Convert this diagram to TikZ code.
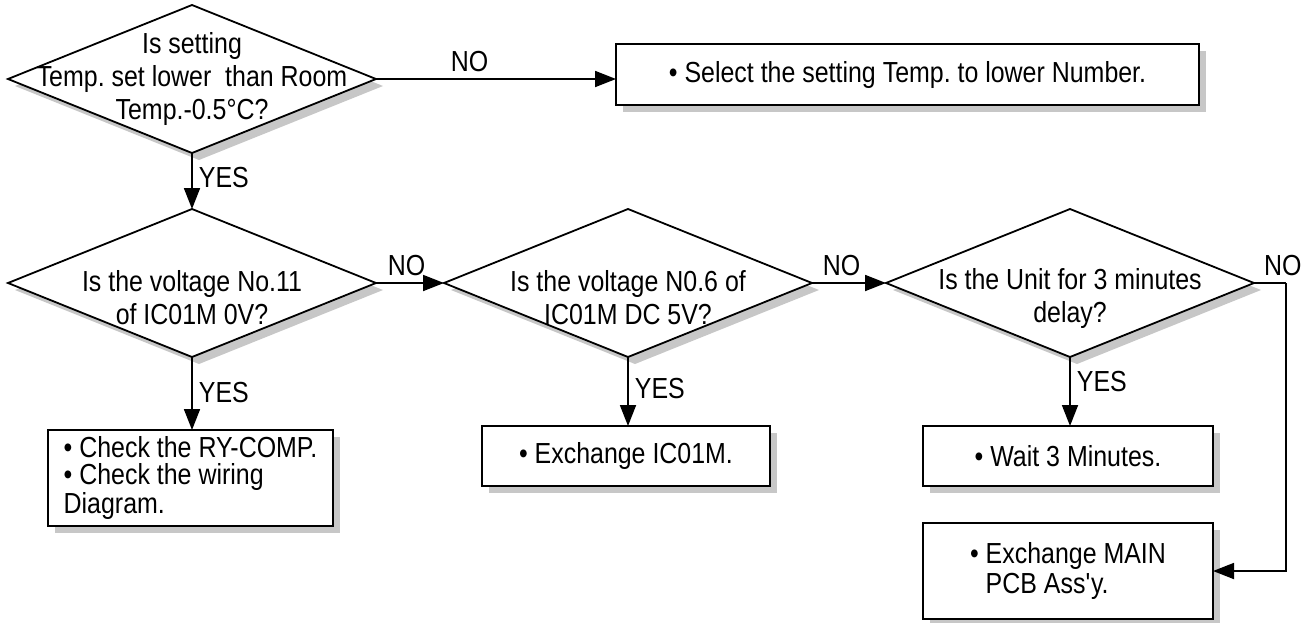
\documentclass[tikz,border=0pt]{standalone}
\usepackage{fontspec}
\setmainfont{Liberation Sans}[FakeStretch=0.86]
\usetikzlibrary{shapes.geometric,arrows.meta,shadows}

\tikzset{
    box/.style={draw, fill=white, line width=0.9pt, inner sep=0pt, outer sep=0pt,
        drop shadow={shadow xshift=3.5pt, shadow yshift=-3.5pt, fill=black!22, opacity=1}},
    decision/.style={box, diamond, minimum width=184pt, minimum height=74pt},
    arr/.style={-{Triangle[length=10.5pt,width=8pt]}, line width=0.9pt},
    lbl/.style={inner sep=3pt},
}

\begin{document}
\frenchspacing
\begin{tikzpicture}[x=0.5pt, y=-0.5pt, font=\fontsize{14.5pt}{16.5pt}\selectfont]
        \useasboundingbox (0,0) rectangle (1305,622);

            \node [decision] (d1) at (192,79) {};
            \node [decision] (d2) at (192,283) {};
            \node [decision] (d3) at (628,283) {};
            \node [decision] (d4) at (1070,283) {};
            \node [align=center] (q1) at (d1) {Is setting\\Temp. set lower\ \ than Room\\Temp.-0.5°C?};
            \node [align=center, yshift=-7.5pt] (q2) at (d2) {Is the voltage No.11\\of IC01M 0V?};
            \node [align=center, yshift=-7.5pt] (q3) at (d3) {Is the voltage N0.6 of\\IC01M DC 5V?};
            \node [align=center, yshift=-7.5pt] (q4) at (d4) {Is the Unit for 3 minutes\\delay?};

            \node [box, minimum width=291.5pt, minimum height=30.5pt] (b1) at (907.5,74.5) {• Select the setting Temp. to lower Number.};
            \node [box, minimum width=142.5pt, minimum height=48pt, align=left,
                font=\fontsize{14.5pt}{13.5pt}\selectfont] (b2) at (190.5,478) {• Check the RY-COMP.\\• Check the wiring\\Diagram.};
            \node [box, minimum width=144pt, minimum height=30pt] (b3) at (626,456) {• Exchange IC01M.};
            \node [box, minimum width=145pt, minimum height=30pt] (b4) at (1068,456) {• Wait 3 Minutes.};
            \node [box, minimum width=145pt, minimum height=48pt, align=left,
                font=\fontsize{14.5pt}{15pt}\selectfont] (b5) at (1068,571) {• Exchange MAIN\\\phantom{• }PCB Ass\textquotesingle y.};
            \coordinate (turn) at (1286,283);

            \draw [arr] (d1.east) -- (d1.east -| b1.west) node [lbl, above, pos=0.39] {NO};
            \draw [arr] (d1.south) -- (d2.north) node [lbl, right, pos=0.44] {YES};
            \draw [arr] (d2.east) -- (d3.west) node [lbl, above, pos=0.45] {NO};
            \draw [arr] (d3.east) -- (d4.west) node [lbl, above, pos=0.4] {NO};
            \draw [arr] (d2.south) -- (d2.south |- b2.north) node [lbl, right, pos=0.49] {YES};
            \draw [arr] (d3.south) -- (d3.south |- b3.north) node [lbl, right, pos=0.45] {YES};
            \draw [arr] (d4.south) -- (d4.south |- b4.north) node [lbl, right, pos=0.36] {YES};
            \draw [line width=0.9pt] (d4.east) -- (turn) node [lbl, above, pos=0.9] {NO};
            \draw [arr] (turn) |- (b5.east);

\end{tikzpicture}
\end{document}
